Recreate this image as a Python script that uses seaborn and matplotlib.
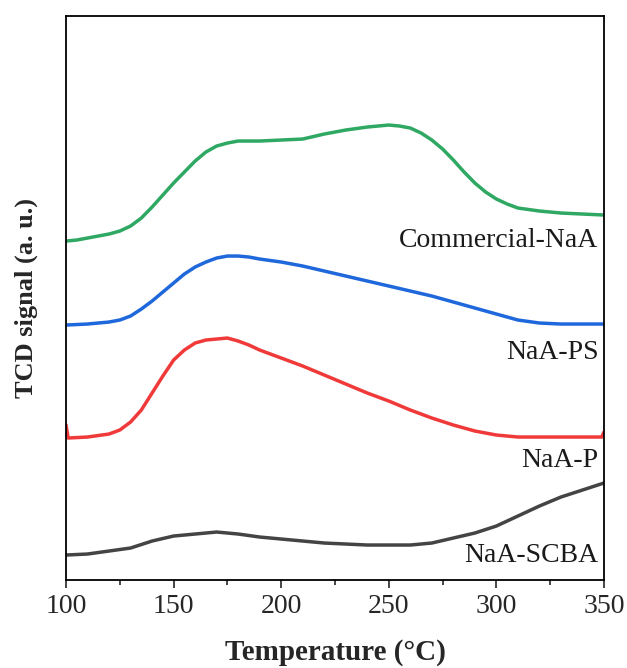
import numpy as np
import pandas as pd
import matplotlib
matplotlib.use('Agg')
import matplotlib.pyplot as plt
import seaborn as sns
from matplotlib.ticker import MultipleLocator

# TPD profiles, signal in arbitrary units (offset per sample)
temp_commercial = [100, 105, 110, 115, 120, 125, 130, 135, 140, 145, 150, 155, 160, 165, 170,
                   175, 180, 190, 200, 210, 220, 230, 240, 250, 255, 260, 265, 270, 275, 280,
                   285, 290, 295, 300, 305, 310, 320, 330, 340, 350]
sig_commercial = [339, 340, 342, 344, 346, 349, 354, 362, 373, 385, 397, 408, 419, 428, 434,
                  437, 439, 439, 440, 441, 446, 450, 453, 455, 454, 452, 447, 440, 431, 420,
                  408, 397, 388, 381, 376, 372, 369, 367, 366, 365]

temp_ps = [100, 110, 120, 125, 130, 135, 140, 145, 150, 155, 160, 165, 170, 175, 180, 185,
           190, 200, 210, 220, 230, 240, 250, 260, 270, 280, 290, 300, 305, 310, 320, 330,
           340, 350]
sig_ps = [255, 256, 258, 260, 264, 271, 279, 288, 297, 306, 313, 318, 322, 324, 324, 323,
          321, 318, 314, 309, 304, 299, 294, 289, 284, 278, 272, 266, 263, 260, 257, 256,
          256, 256]

temp_p = [100, 101, 110, 120, 125, 130, 135, 140, 145, 150, 155, 160, 165, 170, 175, 180,
          185, 190, 200, 210, 220, 230, 240, 250, 260, 270, 280, 290, 300, 310, 320, 330,
          340, 349, 350]
sig_p = [155, 142, 143, 146, 150, 158, 170, 187, 204, 220, 230, 237, 240, 241, 242, 239,
         235, 230, 222, 214, 205, 196, 187, 179, 170, 162, 155, 149, 145, 143, 143, 143,
         143, 143, 148]

temp_scba = [100, 110, 120, 130, 140, 150, 160, 170, 180, 190, 200, 210, 220, 230, 240,
             250, 260, 270, 280, 290, 300, 310, 320, 330, 340, 350]
sig_scba = [25, 26, 29, 32, 39, 44, 46, 48, 46, 43, 41, 39, 37, 36, 35, 35, 35, 37, 42,
            47, 54, 64, 74, 83, 90, 97]

samples = ['Commercial-NaA', 'NaA-PS', 'NaA-P', 'NaA-SCBA']
colors = ['#2ea862', '#1f68dc', '#f03a3a', '#444444']
label_y = [340, 228, 120, 25]

sns.set_style('ticks')
plt.rcParams['font.family'] = ['Liberation Serif', 'DejaVu Serif']

fig = plt.figure(figsize=(6.27, 6.68), dpi=100)
ax = fig.add_axes([0.1053, 0.1317, 0.858, 0.8443])

series = [(temp_commercial, sig_commercial), (temp_ps, sig_ps),
          (temp_p, sig_p), (temp_scba, sig_scba)]
for (t, s), name, c, ly in zip(series, samples, colors, label_y):
    df = pd.DataFrame({'T': t, 'signal': s})
    sns.lineplot(data=df, x='T', y='signal', color=c, lw=2.5, ax=ax)
    ax.text(347.5, ly, name, ha='right', va='center', fontsize=20, color='#1a1a1a')

ax.set_xlim(100, 350)
ax.set_ylim(0, 564)
ax.xaxis.set_major_locator(MultipleLocator(50))
ax.xaxis.set_minor_locator(MultipleLocator(25))
ax.set_yticks([])
ax.tick_params(axis='x', which='major', length=6, width=1.2, labelsize=20,
               direction='out', pad=4)
ax.tick_params(axis='x', which='minor', length=3.5, width=1.2, direction='out')
for sp in ax.spines.values():
    sp.set_visible(True)
    sp.set_linewidth(1.3)
    sp.set_color('black')

ax.set_xlabel('Temperature (°C)', fontsize=21, fontweight='bold')
ax.set_ylabel('TCD signal (a. u.)', fontsize=19, fontweight='bold')
ax.xaxis.set_label_coords(0.5, -0.105)
ax.yaxis.set_label_coords(-0.053, 0.5)

fig.savefig('out.png', dpi=100)
